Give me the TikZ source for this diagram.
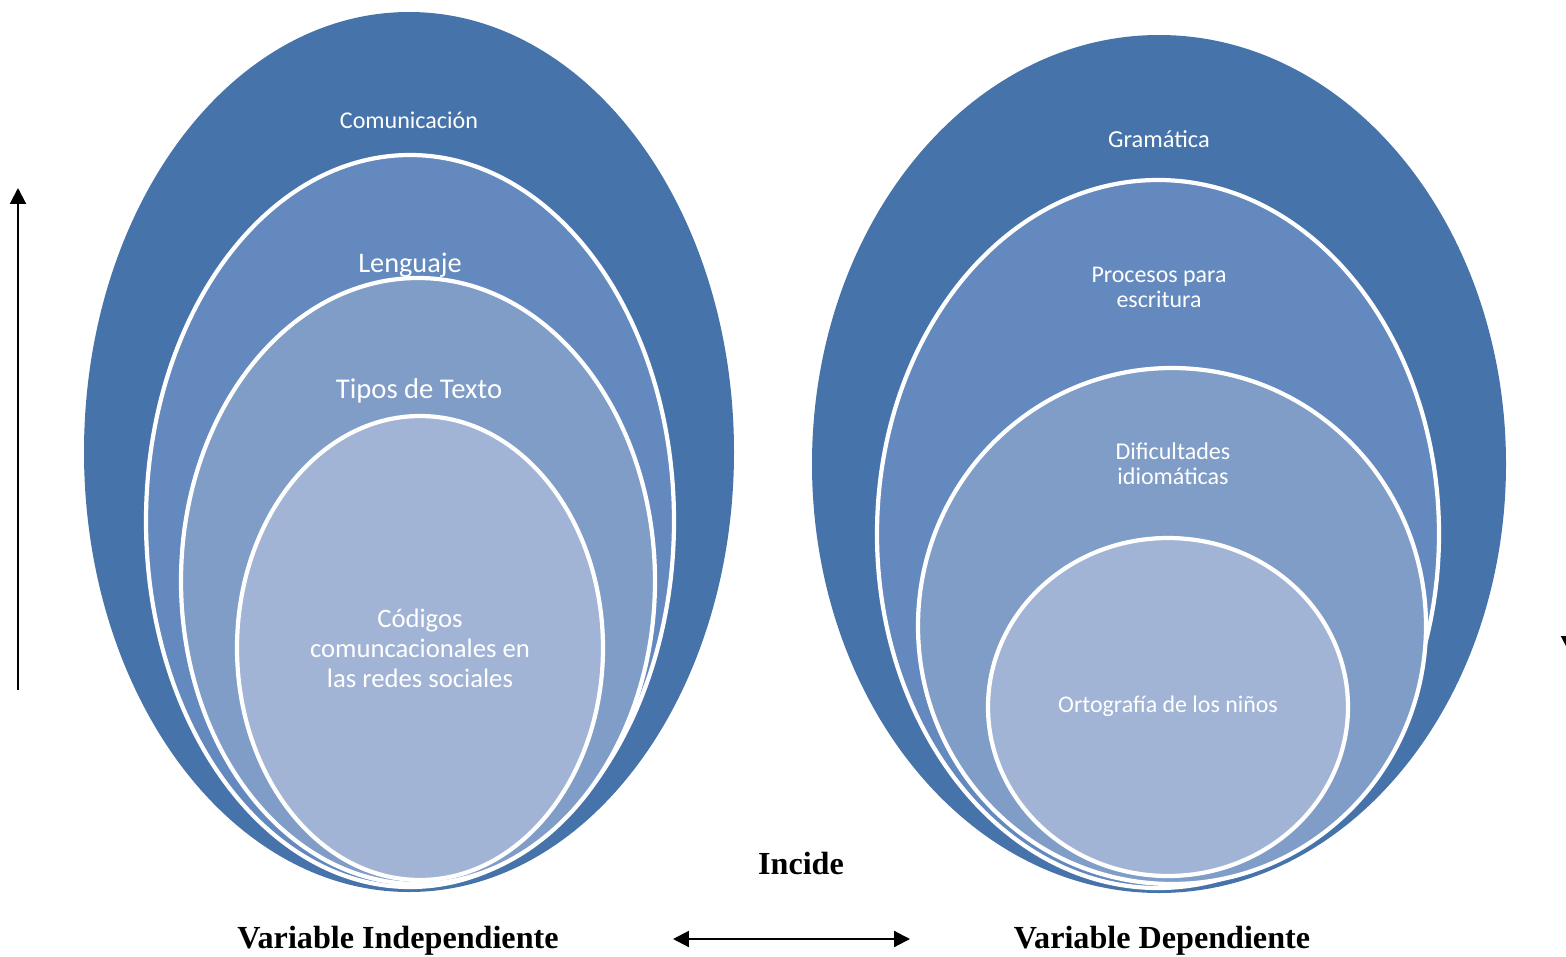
\documentclass[tikz,border=0pt]{standalone}
\usepackage{fontspec}
\setmainfont{Liberation Serif}
\newfontfamily\calfont{Carlito}
\usetikzlibrary{arrows.meta}
\definecolor{b1}{HTML}{4673AA}
\definecolor{b2}{HTML}{6389BE}
\definecolor{b3}{HTML}{809DC8}
\definecolor{b4}{HTML}{A1B4D5}
\tikzset{
  ell/.style={draw=white,line width=2.4pt},
  lab/.style={text=white,align=center,inner sep=0pt},
  captext/.style={inner sep=0pt,text=black},
  arr/.style={line width=1.2pt,-{Triangle[length=9pt,width=9pt]}},
}
\begin{document}
\begin{tikzpicture}[x=0.02cm,y=-0.02cm]
\useasboundingbox (0,0) rectangle (1566,957);
% left
\fill[b1] (409,452) ellipse [x radius=325,y radius=440];
\filldraw[ell,fill=b2] (410,521) ellipse [x radius=264,y radius=366];
\filldraw[ell,fill=b3] (418,581) ellipse [x radius=237,y radius=303];
\filldraw[ell,fill=b4] (420,648) ellipse [x radius=183,y radius=232];
\node[lab,font=\calfont\fontsize{13.7}{16}\selectfont] (com) at (409,120) {Comunicación};
\node[lab,font=\calfont\fontsize{16.1}{18}\selectfont] (len) at (410,265) {Lenguaje};
\node[lab,font=\calfont\fontsize{16.3}{18}\selectfont] (tip) at (419,391) {Tipos de Texto};
\node[lab,font=\calfont\fontsize{15.2}{17}\selectfont] (cod) at (420,648) {Códigos\\comuncacionales en\\las redes sociales};
% right
\fill[b1] (1159,464) ellipse [x radius=347,y radius=429];
\filldraw[ell,fill=b2] (1158,534) ellipse [x radius=281,y radius=354];
\filldraw[ell,fill=b3] (1172,626) ellipse [x radius=254,y radius=258];
\filldraw[ell,fill=b4] (1168,707) ellipse [x radius=180,y radius=169];
\node[lab,font=\calfont\fontsize{13.9}{15}\selectfont] (gra) at (1159,139) {Gramática};
\node[lab,font=\calfont\fontsize{13.6}{14.3}\selectfont] (pro) at (1159,287) {Procesos para\\escritura};
\node[lab,font=\calfont\fontsize{13.7}{14.3}\selectfont] (dif) at (1173,464) {Dificultades\\idiomáticas};
\node[lab,font=\calfont\fontsize{13.6}{14.3}\selectfont] (ort) at (1168,706) {Ortografía de los niños};
% captions
\node[captext,font=\bfseries\fontsize{18.3}{20}\selectfont] (inc) at (801,863) {Incide};
\node[captext,font=\bfseries\fontsize{18.3}{20}\selectfont] (vi) at (398,941) {Variable Independiente};
\node[captext,font=\bfseries\fontsize{18.3}{20}\selectfont] (vd) at (1162,941) {Variable Dependiente};
\coordinate (a1) at (673,939);
\coordinate (a2) at (910,939);
\draw[arr,{Triangle[length=9pt,width=9pt]}-{Triangle[length=9pt,width=9pt]}] (a1) -- (a2);
\coordinate (u1) at (18,690);
\coordinate (u2) at (18,188);
\draw[arr] (u1) -- (u2);
\coordinate (d1) at (1569,250);
\coordinate (d2) at (1569,652);
\draw[arr] (d1) -- (d2);
\end{tikzpicture}
\end{document}
